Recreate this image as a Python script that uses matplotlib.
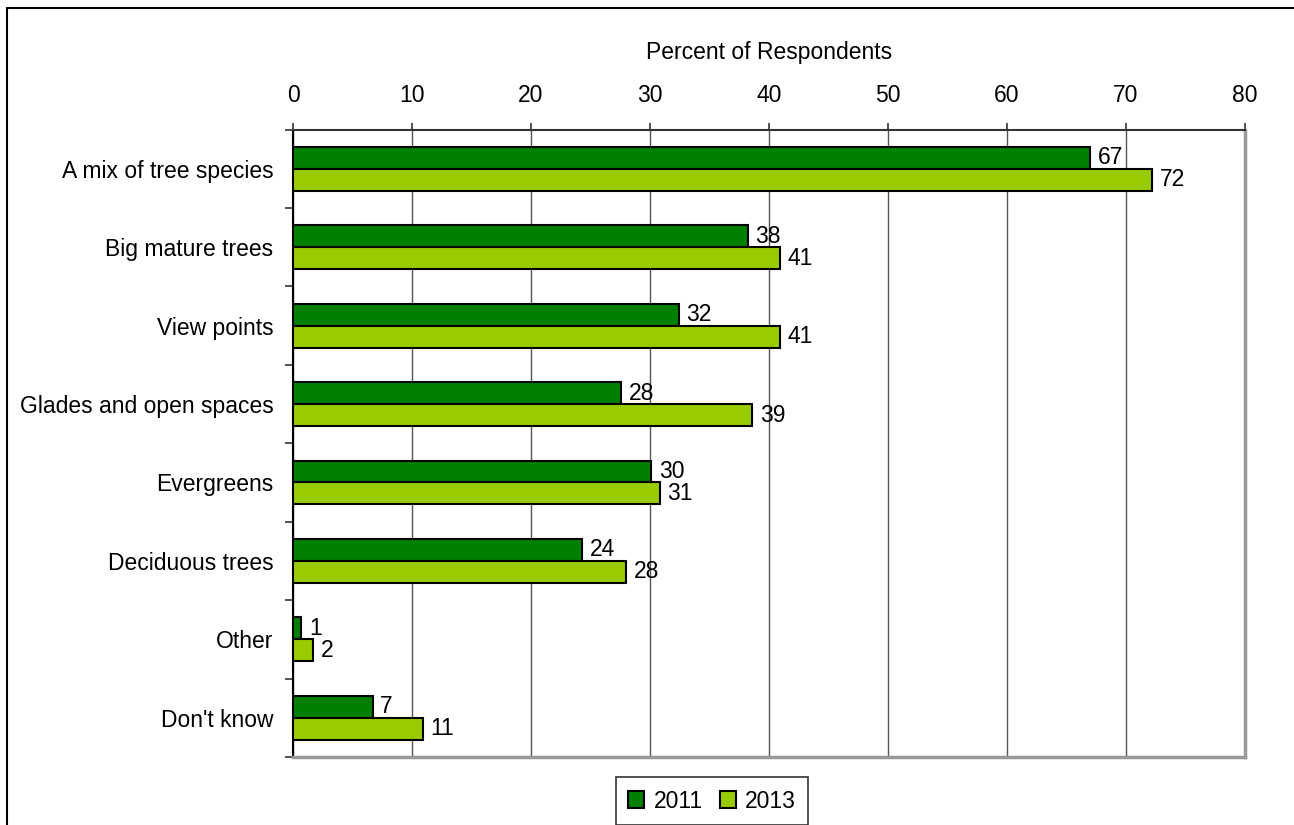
import matplotlib
matplotlib.use("Agg")
import matplotlib.pyplot as plt
from matplotlib.patches import Rectangle
import numpy as np

plt.rcParams['font.family'] = ['Liberation Sans', 'DejaVu Sans']

categories = ["A mix of tree species", "Big mature trees", "View points",
              "Glades and open spaces", "Evergreens", "Deciduous trees",
              "Other", "Don't know"]
values_2011 = [67.0, 38.2, 32.4, 27.6, 30.1, 24.3, 0.7, 6.7]
values_2013 = [72.2, 40.9, 40.9, 38.6, 30.8, 28.0, 1.7, 10.9]
series_names = ["2011", "2013"]
xticks = [0, 10, 20, 30, 40, 50, 60, 70, 80]

W, H = 1294, 825
fig = plt.figure(figsize=(W / 100, H / 100), dpi=100)

# outer border (left and top visible)
fig.patches.append(Rectangle((7 / W, -0.1), 1.2, 1 - 8 / H + 0.1,
                             transform=fig.transFigure, fill=False,
                             edgecolor='black', linewidth=1.5))

left, right, top, bottom = 293 / W, 1245 / W, 1 - 129.5 / H, 1 - 757 / H
ax = fig.add_axes([left, bottom, right - left, top - bottom])

y = np.arange(len(categories))
h = 0.28
c2011 = '#008000'
c2013 = '#99cc00'
b1 = ax.barh(y - h / 2, values_2011, height=h, color=c2011, edgecolor='black',
             linewidth=1.5, zorder=3, label=series_names[0])
b2 = ax.barh(y + h / 2, values_2013, height=h, color=c2013, edgecolor='black',
             linewidth=1.5, zorder=3, label=series_names[1])

fs = 16.5
for bars, vals in ((b1, values_2011), (b2, values_2013)):
    for rect, v in zip(bars, vals):
        ax.annotate(f"{round(v):d}", (v, rect.get_y() + rect.get_height() / 2),
                    xytext=(5.5, 0), textcoords='offset points',
                    ha='left', va='center', fontsize=fs, zorder=4)

ax.set_xlim(0, 80)
ax.set_ylim(len(categories) - 0.5, -0.5)
ax.xaxis.set_ticks_position('top')
ax.xaxis.set_label_position('top')
ax.set_xticks(xticks)
ax.set_xticklabels([str(t) for t in xticks], fontsize=fs)
ax.tick_params(axis='x', direction='out', length=5, width=1.2,
               color='#333333', pad=11)
ax.set_xlabel("Percent of Respondents", fontsize=fs, labelpad=18)

ax.set_yticks(y)
ax.set_yticklabels(categories, fontsize=fs)
ax.set_yticks(np.arange(-0.5, len(categories)), minor=True)
ax.tick_params(axis='y', which='major', length=0, pad=14)
ax.tick_params(axis='y', which='minor', direction='out', length=6,
               width=1.2, color='#333333')

ax.grid(axis='x', color='#555555', linewidth=1.0, zorder=0)
ax.set_axisbelow(True)

ax.spines['top'].set_color('#333333')
ax.spines['top'].set_linewidth(1.5)
ax.spines['left'].set_color('black')
ax.spines['left'].set_linewidth(1.5)
ax.spines['right'].set_color('#999999')
ax.spines['right'].set_linewidth(2.5)
ax.spines['bottom'].set_color('#999999')
ax.spines['bottom'].set_linewidth(2.5)

leg = fig.legend(handles=[b1, b2], labels=series_names, loc='center',
                 bbox_to_anchor=(712 / W, 1 - 801 / H), ncol=2, fontsize=fs,
                 frameon=True, fancybox=False, handlelength=0.7,
                 handleheight=0.7, handletextpad=0.4, columnspacing=0.75,
                 borderpad=0.55, borderaxespad=0)
leg.get_frame().set_edgecolor('black')
leg.get_frame().set_linewidth(1.2)

fig.savefig("out.png", dpi=100)
